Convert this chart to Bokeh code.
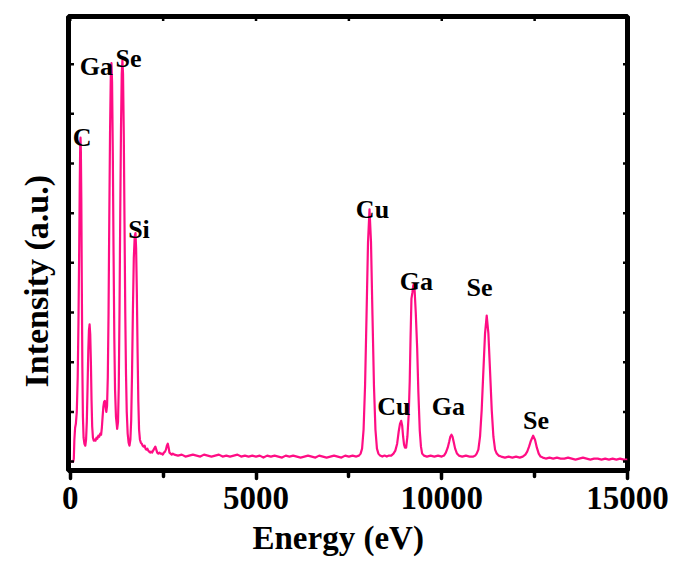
from math import pi
from bokeh.plotting import figure
from bokeh.models import Range1d, FixedTicker, Title, ColumnDataSource
from bokeh.core.properties import value
from bokeh.embed import file_html
from bokeh.resources import INLINE

# Spectrum: energy (eV) and intensity (a.u.)
energy = [
    0, 40, 80, 95, 110, 130, 150, 175, 200, 220, 240, 255, 267, 276, 285, 297, 310, 325, 340, 358,
    380, 405, 425, 445, 465, 485, 502, 520, 537, 555, 572, 590, 610, 633, 655, 680, 705, 730, 755, 780,
    805, 830, 850, 870, 890, 910, 930, 950, 970, 990, 1010, 1030, 1050, 1070, 1090, 1108, 1125, 1145, 1165, 1185,
    1205, 1230, 1262, 1285, 1305, 1325, 1345, 1365, 1385, 1403, 1420, 1440, 1460, 1480, 1500, 1520, 1545, 1570, 1594, 1618,
    1640, 1662, 1685, 1710, 1735, 1755, 1772, 1792, 1812, 1832, 1852, 1875, 1900, 1925, 1950, 1975, 2000, 2025, 2050, 2075,
    2100, 2125, 2150, 2175, 2200, 2230, 2260, 2290, 2315, 2340, 2370, 2400, 2430, 2460, 2490, 2520, 2550, 2575, 2600, 2625,
    2648, 2670, 2700, 2730, 2760,
    2800, 2900, 3000, 3100, 3200, 3300, 3400, 3500, 3600, 3700, 3800, 3900, 4000, 4100, 4200, 4300, 4400, 4500, 4600, 4700,
    4800, 4900, 5000, 5100, 5200, 5300, 5400, 5500, 5600, 5700, 5800, 5900, 6000, 6100, 6200, 6300, 6400, 6500, 6600, 6700,
    6800, 6900, 7000, 7100, 7200, 7300, 7400, 7500, 7600, 7700, 7770,
    7815, 7855, 7895, 7935, 7975, 8015, 8055, 8095, 8135, 8175, 8215, 8255, 8295, 8340, 8400, 8460, 8520, 8580, 8640,
    8700, 8750, 8799, 8840, 8875, 8907, 8935, 8960, 8985, 9010, 9041,
    9075, 9111, 9138, 9160, 9184, 9210, 9232, 9250, 9270, 9300, 9338, 9370, 9408, 9440, 9472, 9520,
    9600, 9700, 9800, 9900, 10000, 10060,
    10110, 10160, 10200, 10230, 10261, 10290, 10320, 10360, 10410, 10460,
    10550, 10650, 10750, 10850, 10900,
    10940, 10985, 11030, 11075, 11120, 11165, 11210, 11255, 11300, 11345, 11390, 11435, 11480, 11530,
    11600, 11700, 11800, 11900, 12000, 12100, 12180,
    12250, 12300, 12350, 12400, 12460, 12510, 12560, 12610, 12660, 12720,
    12800, 12900, 13000, 13100, 13200, 13300, 13400, 13500, 13600, 13700, 13800, 13900, 14000, 14100, 14200, 14300, 14400,
    14500, 14600, 14700, 14800, 14900, 15000,
]
intensity = [
    0, 0, 0, 3, 22, 34, 38, 50, 85, 140, 215, 280, 318, 326, 312, 265, 180, 95, 45, 24,
    18, 16, 22, 40, 75, 112, 132, 138, 128, 100, 62, 35, 24, 21, 22, 21, 24, 23, 26, 25,
    28, 27, 34, 45, 55, 60, 61, 55, 50, 56, 85, 150, 245, 330, 387, 401, 382, 310, 210, 125,
    72, 45, 33, 40, 75, 150, 250, 335, 390, 404, 390, 330, 240, 150, 88, 50, 28, 19, 16, 22,
    42, 88, 150, 205, 227, 230, 215, 170, 110, 60, 32, 22, 19, 18, 16, 15, 16, 13, 12, 13,
    11, 10, 9, 10, 9, 11, 13, 15, 12, 9, 8, 9, 8, 8, 7, 9, 10, 12, 16, 18,
    14, 9, 8, 7, 8,
    7, 6, 7, 5, 6, 7, 6, 5, 7, 6, 5, 6, 7, 5, 6, 5, 6, 7, 5, 6,
    5, 6, 5, 6, 4, 6, 5, 6, 5, 4, 6, 5, 6, 5, 4, 5, 6, 5, 4, 6,
    5, 4, 5, 6, 5, 4, 6, 5, 6, 5, 6,
    8, 13, 32, 76, 147, 221, 254, 221, 147, 76, 32, 13, 8, 6, 5, 6, 5, 6, 6,
    8, 11, 18, 30, 38, 41, 36, 25, 17, 14, 14,
    25, 48, 81, 125, 164, 170, 177, 179, 172, 150, 114, 70, 31, 15, 8, 6,
    5, 6, 5, 6, 5, 6,
    9, 14, 20, 25, 27, 25, 20, 13, 8, 6,
    5, 6, 5, 5, 6,
    8, 12, 25, 52, 91, 129, 147, 129, 91, 52, 25, 12, 8, 6,
    5, 4, 5, 4, 5, 4, 5,
    7, 10, 15, 21, 26, 22, 14, 8, 5, 4,
    3, 4, 3, 4, 3, 3, 4, 3, 2, 3, 4, 3, 2, 3, 3, 2, 3,
    2, 3, 2, 3, 2, 2,
]

# Peak annotations
peak_labels = ["C", "Ga", "Se", "Si", "Cu", "Cu", "Ga", "Ga", "Se", "Se"]
peak_label_x = [320, 705, 1567, 1849, 8135, 8713, 9319, 10180, 11015, 12536]
peak_label_y = [326, 398, 406, 234, 254, 55, 181, 55, 175, 41]

x_major_ticks = [0, 5000, 10000, 15000]
x_minor_ticks = [2500, 7500, 12500]
y_ticks = [0, 50, 100, 150, 200, 250, 300, 350, 400]

X_START, X_END = -48, 15000
Y_START, Y_END = -9, 448

FONT = "Liberation Serif"
PINK = "#FF0D84"

p = figure(width=673, height=563, output_backend="svg", toolbar_location=None,
           x_range=Range1d(X_START, X_END), y_range=Range1d(Y_START, Y_END),
           min_border_left=68, min_border_right=46, min_border_top=16, min_border_bottom=93)
p.background_fill_color = "white"
p.border_fill_color = "white"
p.grid.visible = False
p.outline_line_color = "black"
p.outline_line_width = 5

p.line(energy, intensity, line_color=PINK, line_width=2.2, line_join="round")

src = ColumnDataSource(dict(x=peak_label_x, y=peak_label_y, t=peak_labels))
p.text("x", "y", text="t", source=src, text_font=value(FONT), text_font_style="bold",
       text_font_size="26px", text_align="center", text_baseline="alphabetic", text_color="black")

# small inner ticks on left, right and top spines
p.scatter([X_START] * len(y_ticks), y_ticks, marker="dash", size=11, line_color="black", line_width=2.5)
p.scatter([X_END] * len(y_ticks), y_ticks, marker="dash", size=9, line_color="black", line_width=2.5)
top_ticks = x_major_ticks + x_minor_ticks
p.scatter(top_ticks, [Y_END] * len(top_ticks), marker="dash", angle=pi / 2, size=9,
          line_color="black", line_width=2.5)

# bottom axis
xa = p.xaxis[0]
xa.ticker = FixedTicker(ticks=x_major_ticks, minor_ticks=x_minor_ticks)
xa.axis_line_color = None
xa.major_tick_in = 0
xa.major_tick_out = 8
xa.major_tick_line_width = 3.5
xa.major_tick_line_cap = "round"
xa.minor_tick_in = 0
xa.minor_tick_out = 6
xa.minor_tick_line_width = 3.5
xa.minor_tick_line_cap = "round"
xa.major_label_text_font = FONT
xa.major_label_text_font_style = "bold"
xa.major_label_text_font_size = "33px"
xa.major_label_text_color = "black"
xa.major_label_standoff = 8

p.yaxis.visible = False

p.add_layout(Title(text="Energy (eV)", align="left", offset=184, standoff=12,
                   text_font=FONT, text_font_style="bold", text_font_size="33px", text_color="black"), "below")
p.add_layout(Title(text="Intensity (a.u.)", align="left", offset=83, standoff=28,
                   text_font=FONT, text_font_style="bold", text_font_size="34px", text_color="black"), "left")

open("out.html", "w").write(file_html(p, INLINE))
